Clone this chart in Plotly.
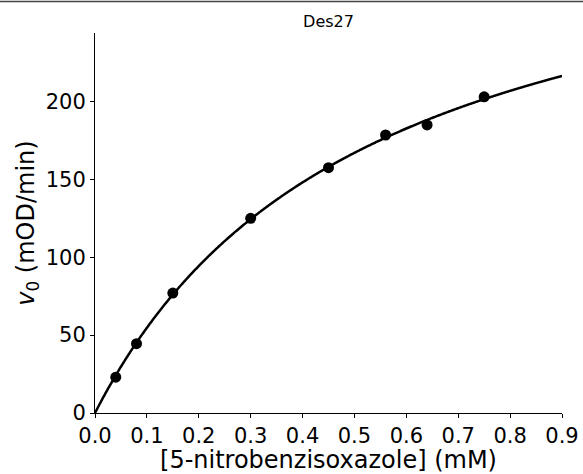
import numpy as np
import plotly.graph_objects as go

# Data
substrate_mM = [0.04, 0.08, 0.15, 0.30, 0.45, 0.56, 0.64, 0.75]
rate_mOD_min = [23.0, 44.5, 77.0, 125.0, 157.5, 178.5, 185.0, 203.0]
x_ticks = [0.0, 0.1, 0.2, 0.3, 0.4, 0.5, 0.6, 0.7, 0.8, 0.9]
y_ticks = [0, 50, 100, 150, 200]
title_text = "Des27"
x_title = "[5-nitrobenzisoxazole] (mM)"
y_title = "<i>v</i><sub>0</sub> (mOD/min)"

# Michaelis-Menten fit of the data (Gauss-Newton)
S = np.array(substrate_mM)
v = np.array(rate_mOD_min)
Vm, Km = v.max() * 1.5, float(np.median(S))
for _ in range(200):
    f = Vm * S / (Km + S)
    J = np.column_stack([S / (Km + S), -Vm * S / (Km + S) ** 2])
    delta, *_ = np.linalg.lstsq(J, v - f, rcond=None)
    Vm += delta[0]
    Km += delta[1]
    if np.abs(delta).max() < 1e-10:
        break
xs = np.linspace(0, 0.9, 400)
ys = Vm * xs / (Km + xs)

font = "DejaVu Sans, Liberation Sans, sans-serif"
fig = go.Figure()
fig.add_trace(go.Scatter(x=xs, y=ys, mode="lines",
                         line=dict(color="black", width=2.5, shape="spline"),
                         hoverinfo="skip", showlegend=False))
fig.add_trace(go.Scatter(x=substrate_mM, y=rate_mOD_min, mode="markers",
                         marker=dict(color="black", size=11),
                         showlegend=False))

axis_common = dict(showline=True, linecolor="black", linewidth=1,
                   ticks="outside", ticklen=4, tickwidth=1, tickcolor="black",
                   showgrid=False, zeroline=False, mirror=False,
                   tickfont=dict(family=font, size=21, color="black"))

fig.update_layout(
    width=583, height=474,
    margin=dict(l=95, r=21, t=33, b=61, autoexpand=False),
    plot_bgcolor="white", paper_bgcolor="white",
    font=dict(family=font, color="black"),
    title=dict(text=title_text, x=0.5, xref="paper", y=1 - 21 / 474,
               yref="container", xanchor="center", yanchor="middle",
               font=dict(family=font, size=16, color="black")),
    xaxis=dict(range=[0, 0.9], tickvals=x_ticks, tickformat=".1f",
               title=dict(text=x_title, standoff=2,
                          font=dict(family=font, size=24, color="black")),
               **axis_common),
    yaxis=dict(range=[0, 244], tickvals=y_ticks,
               title=dict(text=y_title, standoff=4,
                          font=dict(family=font, size=24, color="black")),
               **axis_common),
    shapes=[dict(type="line", xref="paper", yref="paper",
                 x0=-95 / 467, x1=(583 - 95) / 467,
                 y0=(413.3 - 1.5) / 380.3, y1=(413.3 - 1.5) / 380.3,
                 line=dict(color="#444444", width=1.5))],
)

fig.write_html("out.html",
               config={"displayModeBar": False},
               post_script="document.body.style.margin='0';"
                           "document.body.style.overflow='hidden';")
